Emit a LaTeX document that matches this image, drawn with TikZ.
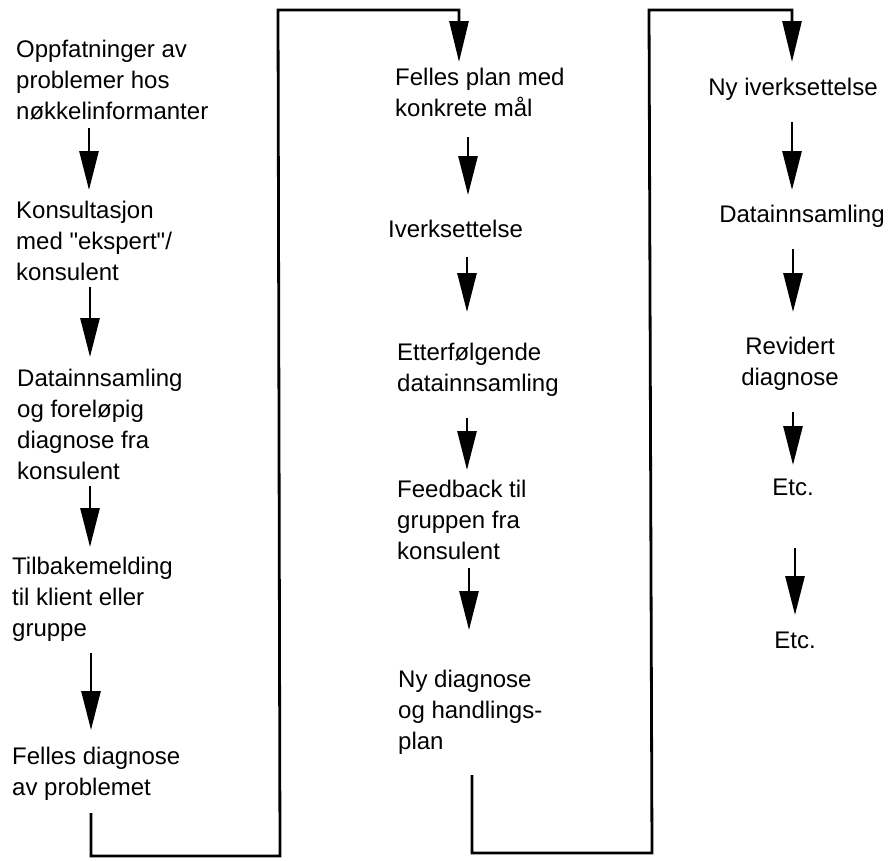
\documentclass[tikz,border=0pt]{standalone}
\usepackage{fontspec}
\setmainfont{Liberation Sans}[Ligatures=TeXOff]
\usetikzlibrary{arrows.meta}
\begin{document}
\begin{tikzpicture}[x=1pt,y=-1pt,
  % the base anchor of a multi-line node sits on its last line
  label text/.style={inner sep=0pt, align=left, anchor=base west,
    font=\fontsize{24pt}{31pt}\selectfont},
  centred text/.style={inner sep=0pt, align=center, anchor=base,
    font=\fontsize{24pt}{31pt}\selectfont},
  stepflow/.style={line width=2.8pt, line join=miter,
    -{Triangle[length=39pt,width=19pt]}},
  loopline/.style={line width=2.8pt, line join=miter,
    -{Triangle[length=41pt,width=19pt]}}]
\useasboundingbox (0,0) rectangle (893,860);

% ---------- first column ----------
\node[label text] (l1) at (16,119)
  {Oppfatninger av\\problemer hos\\nøkkelinformanter};
\node[label text] (l2) at (16,280)
  {Konsultasjon\\med "ekspert"/\\konsulent};
\node[label text] (l3) at (17,479)
  {Datainnsamling\\og foreløpig\\diagnose fra\\konsulent};
\node[label text] (l4) at (12,636)
  {Tilbakemelding\\til klient eller\\gruppe};
\node[label text] (l5) at (12,795)
  {Felles diagnose\\av problemet};

\coordinate (l1s) at (89,128);  \coordinate (l2n) at (89,190);
\coordinate (l2s) at (90,287);  \coordinate (l3n) at (90,357);
\coordinate (l3s) at (90,486);  \coordinate (l4n) at (90,547);
\coordinate (l4s) at (91,653);  \coordinate (l5n) at (91,730);
\draw[stepflow] (l1s) -- (l2n);
\draw[stepflow] (l2s) -- (l3n);
\draw[stepflow] (l3s) -- (l4n);
\draw[stepflow] (l4s) -- (l5n);

% ---------- second column ----------
\node[label text] (m1) at (395,116)
  {Felles plan med\\konkrete mål};
\node[label text] (m2) at (388,237)
  {Iverksettelse};
\node[label text] (m3) at (397,391)
  {Etterfølgende\\datainnsamling};
\node[label text] (m4) at (397,559)
  {Feedback til\\gruppen fra\\konsulent};
\node[label text] (m5) at (398,749)
  {Ny diagnose\\og handlings-\\plan};

\coordinate (m1s) at (468,137); \coordinate (m2n) at (468,195);
\coordinate (m2s) at (467,257); \coordinate (m3n) at (467,312);
\coordinate (m3s) at (467,418); \coordinate (m4n) at (467,470);
\coordinate (m4s) at (469,568); \coordinate (m5n) at (469,630);
\draw[stepflow] (m1s) -- (m2n);
\draw[stepflow] (m2s) -- (m3n);
\draw[stepflow] (m3s) -- (m4n);
\draw[stepflow] (m4s) -- (m5n);

% ---------- third column ----------
\node[centred text] (r1) at (793,95) {Ny iverksettelse};
\node[centred text] (r2) at (802,222) {Datainnsamling};
\node[centred text] (r3) at (790,385) {Revidert\\diagnose};
\node[centred text] (r4) at (793,495) {Etc.};
\node[centred text] (r5) at (795,648) {Etc.};

\coordinate (r1s) at (792,122); \coordinate (r2n) at (792,190);
\coordinate (r2s) at (793,249); \coordinate (r3n) at (793,312);
\coordinate (r3s) at (793,412); \coordinate (r4n) at (793,465);
\coordinate (r4s) at (795,548); \coordinate (r5n) at (795,615);
\draw[stepflow] (r1s) -- (r2n);
\draw[stepflow] (r2s) -- (r3n);
\draw[stepflow] (r3s) -- (r4n);
\draw[stepflow] (r4s) -- (r5n);

% ---------- links between the columns ----------
\coordinate (la) at (91,813);
\coordinate (lb) at (91,856);
\coordinate (lc) at (280,856);
\coordinate (ld) at (278,10);
\coordinate (le) at (459,10);
\coordinate (m1n) at (459,62);
\draw[loopline] (la) -- (lb) -- (lc) -- (ld) -- (le) -- (m1n);

\coordinate (ma) at (472,775);
\coordinate (mb) at (472,853);
\coordinate (mc) at (652,853);
\coordinate (md) at (649,10);
\coordinate (me) at (792,10);
\coordinate (r1n) at (792,62);
\draw[loopline] (ma) -- (mb) -- (mc) -- (md) -- (me) -- (r1n);
\end{tikzpicture}
\end{document}
